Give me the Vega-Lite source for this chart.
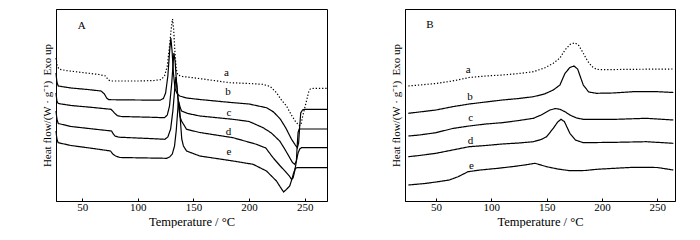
{
  "$schema": "https://vega.github.io/schema/vega-lite/v6.json",
  "padding": {"left": 40, "top": 8, "right": 0, "bottom": 0},
  "spacing": 59,
  "config": {
    "view": {"stroke": "black", "strokeWidth": 1},
    "font": "Liberation Serif",
    "axis": {"domainColor": "black", "tickColor": "black", "labelColor": "black", "titleColor": "black", "labelFont": "Liberation Serif", "titleFont": "Liberation Serif", "labelFontSize": 11, "titleFontSize": 11, "titleFontWeight": "normal", "grid": false}
  },
  "datasets": {
    "A": [
      {"s":"a","t":26.5,"v":143},{"s":"a","t":27.5,"v":136},{"s":"a","t":29,"v":132},{"s":"a","t":35,"v":130.5},{"s":"a","t":50,"v":128.5},{"s":"a","t":65,"v":126.5},{"s":"a","t":71,"v":125},{"s":"a","t":73.5,"v":121},{"s":"a","t":76,"v":120},{"s":"a","t":100,"v":120},{"s":"a","t":115,"v":120.5},{"s":"a","t":121,"v":121.5},{"s":"a","t":124,"v":125},{"s":"a","t":126.5,"v":135},{"s":"a","t":128.5,"v":155},{"s":"a","t":130,"v":172},{"s":"a","t":131.2,"v":182},{"s":"a","t":132.2,"v":172},{"s":"a","t":133.3,"v":150},{"s":"a","t":134.5,"v":132},{"s":"a","t":136,"v":126},{"s":"a","t":140,"v":124.5},{"s":"a","t":149.6,"v":123.3},{"s":"a","t":165,"v":121},{"s":"a","t":182.6,"v":118.3},{"s":"a","t":200,"v":117.5},{"s":"a","t":212.3,"v":116.7},{"s":"a","t":219,"v":114.5},{"s":"a","t":224.6,"v":108.3},{"s":"a","t":229,"v":101},{"s":"a","t":233.6,"v":95},{"s":"a","t":238,"v":86},{"s":"a","t":242,"v":79},{"s":"a","t":245,"v":75.5},{"s":"a","t":246.5,"v":76},{"s":"a","t":248,"v":84},{"s":"a","t":250,"v":93},{"s":"a","t":252,"v":102},{"s":"a","t":253.5,"v":109},{"s":"a","t":255,"v":112},{"s":"a","t":258,"v":112.7},{"s":"a","t":270,"v":112.7},
      {"s":"b","t":26.5,"v":128},{"s":"b","t":27.3,"v":119},{"s":"b","t":28.5,"v":115},{"s":"b","t":40,"v":113},{"s":"b","t":55,"v":111.5},{"s":"b","t":67,"v":110},{"s":"b","t":70,"v":107},{"s":"b","t":72,"v":103},{"s":"b","t":74,"v":101.3},{"s":"b","t":100,"v":101},{"s":"b","t":120,"v":100.8},{"s":"b","t":123,"v":102.5},{"s":"b","t":125,"v":108},{"s":"b","t":127,"v":125},{"s":"b","t":128.6,"v":150},{"s":"b","t":129.7,"v":163},{"s":"b","t":130.8,"v":150},{"s":"b","t":132,"v":128},{"s":"b","t":133.5,"v":112},{"s":"b","t":135.5,"v":107},{"s":"b","t":137.7,"v":105},{"s":"b","t":143.8,"v":103},{"s":"b","t":155.7,"v":101.5},{"s":"b","t":185.6,"v":98.3},{"s":"b","t":200,"v":97},{"s":"b","t":215.6,"v":93.3},{"s":"b","t":222,"v":89},{"s":"b","t":228,"v":82},{"s":"b","t":233,"v":73},{"s":"b","t":238,"v":62},{"s":"b","t":241.5,"v":56},{"s":"b","t":243.4,"v":53.3},{"s":"b","t":244.5,"v":58},{"s":"b","t":245.5,"v":75},{"s":"b","t":246.4,"v":88},{"s":"b","t":248,"v":91},{"s":"b","t":250,"v":91.7},{"s":"b","t":270,"v":91.7},
      {"s":"c","t":26.5,"v":108},{"s":"c","t":27.3,"v":100},{"s":"c","t":28.5,"v":97.5},{"s":"c","t":40,"v":95.5},{"s":"c","t":60,"v":93.5},{"s":"c","t":76,"v":91.7},{"s":"c","t":79,"v":88},{"s":"c","t":81.5,"v":85.5},{"s":"c","t":85,"v":84.5},{"s":"c","t":110,"v":83.8},{"s":"c","t":124,"v":83.3},{"s":"c","t":126.5,"v":86},{"s":"c","t":128.5,"v":95},{"s":"c","t":130.5,"v":118},{"s":"c","t":132.4,"v":148},{"s":"c","t":133.5,"v":140},{"s":"c","t":135,"v":115},{"s":"c","t":136.5,"v":100},{"s":"c","t":138,"v":94},{"s":"c","t":139.3,"v":90},{"s":"c","t":145,"v":87.5},{"s":"c","t":155.7,"v":85},{"s":"c","t":185.6,"v":81.7},{"s":"c","t":200,"v":79.5},{"s":"c","t":212.6,"v":73.3},{"s":"c","t":220,"v":68},{"s":"c","t":227.5,"v":60},{"s":"c","t":232,"v":52},{"s":"c","t":236.5,"v":43.3},{"s":"c","t":239,"v":38.5},{"s":"c","t":241,"v":36.7},{"s":"c","t":242.5,"v":40},{"s":"c","t":243.2,"v":55},{"s":"c","t":244,"v":68.3},{"s":"c","t":245,"v":72},{"s":"c","t":270,"v":72},
      {"s":"d","t":26.5,"v":90},{"s":"d","t":27.3,"v":82},{"s":"d","t":28.5,"v":77.5},{"s":"d","t":40,"v":74.5},{"s":"d","t":60,"v":72},{"s":"d","t":76.4,"v":70},{"s":"d","t":78,"v":67},{"s":"d","t":79.5,"v":65},{"s":"d","t":83,"v":63.8},{"s":"d","t":110,"v":62.5},{"s":"d","t":124.3,"v":61.7},{"s":"d","t":127,"v":64},{"s":"d","t":129.5,"v":72},{"s":"d","t":131.5,"v":90},{"s":"d","t":133.2,"v":112},{"s":"d","t":134.2,"v":124},{"s":"d","t":135.2,"v":115},{"s":"d","t":136.5,"v":95},{"s":"d","t":138,"v":84},{"s":"d","t":139.3,"v":80},{"s":"d","t":143.8,"v":71.7},{"s":"d","t":155.7,"v":68.5},{"s":"d","t":185.6,"v":63.3},{"s":"d","t":206.6,"v":56.7},{"s":"d","t":215,"v":53},{"s":"d","t":221.5,"v":43.3},{"s":"d","t":228,"v":35},{"s":"d","t":233,"v":29},{"s":"d","t":236.5,"v":24.5},{"s":"d","t":238.1,"v":21.7},{"s":"d","t":239.5,"v":23},{"s":"d","t":241,"v":30},{"s":"d","t":242.5,"v":40},{"s":"d","t":244,"v":48},{"s":"d","t":245.5,"v":52},{"s":"d","t":247,"v":53.3},{"s":"d","t":270,"v":53.3},
      {"s":"e","t":26.5,"v":70},{"s":"e","t":27.3,"v":62},{"s":"e","t":28.4,"v":58.3},{"s":"e","t":40,"v":55.5},{"s":"e","t":60,"v":52.5},{"s":"e","t":75.5,"v":50},{"s":"e","t":77.5,"v":47},{"s":"e","t":80,"v":45},{"s":"e","t":84,"v":43.5},{"s":"e","t":110,"v":43},{"s":"e","t":125.8,"v":42.7},{"s":"e","t":128.5,"v":44},{"s":"e","t":131,"v":47},{"s":"e","t":133,"v":55},{"s":"e","t":134.5,"v":70},{"s":"e","t":135.7,"v":88},{"s":"e","t":136.5,"v":100},{"s":"e","t":137.4,"v":95},{"s":"e","t":138.3,"v":80},{"s":"e","t":139.5,"v":62},{"s":"e","t":141,"v":55},{"s":"e","t":143.8,"v":50},{"s":"e","t":155.7,"v":45},{"s":"e","t":185.6,"v":40},{"s":"e","t":203.6,"v":36.7},{"s":"e","t":215.6,"v":30},{"s":"e","t":224.6,"v":20},{"s":"e","t":228,"v":14},{"s":"e","t":231,"v":9},{"s":"e","t":233,"v":11},{"s":"e","t":236.5,"v":15},{"s":"e","t":238.5,"v":22},{"s":"e","t":240,"v":28},{"s":"e","t":241.5,"v":32.5},{"s":"e","t":243,"v":33.3},{"s":"e","t":270,"v":33.3}
    ],
    "LA": [
      {"t":49.7,"v":175,"label":"A"},{"t":179.6,"v":128.3,"label":"a"},{"t":181.1,"v":109.3,"label":"b"},{"t":182,"v":88.3,"label":"c"},{"t":181.5,"v":69,"label":"d"},{"t":182,"v":49,"label":"e"}
    ],
    "B": [
      {"s":"a","t":25,"v":115},{"s":"a","t":35,"v":116},{"s":"a","t":50,"v":117.5},{"s":"a","t":65,"v":120},{"s":"a","t":80,"v":123.5},{"s":"a","t":95,"v":125},{"s":"a","t":110,"v":126},{"s":"a","t":125,"v":127.5},{"s":"a","t":138,"v":129.3},{"s":"a","t":148,"v":133},{"s":"a","t":156,"v":137.7},{"s":"a","t":162,"v":143},{"s":"a","t":166.6,"v":151},{"s":"a","t":171,"v":156.5},{"s":"a","t":175.6,"v":158.3},{"s":"a","t":179,"v":155.5},{"s":"a","t":183,"v":148},{"s":"a","t":187,"v":140},{"s":"a","t":191,"v":134.5},{"s":"a","t":195,"v":131.7},{"s":"a","t":200,"v":131.3},{"s":"a","t":230,"v":131.7},{"s":"a","t":264.5,"v":132},
      {"s":"b","t":25,"v":87.7},{"s":"b","t":35,"v":89},{"s":"b","t":50,"v":91},{"s":"b","t":65,"v":94.3},{"s":"b","t":80,"v":97},{"s":"b","t":95,"v":99},{"s":"b","t":110,"v":101},{"s":"b","t":125,"v":102.5},{"s":"b","t":138,"v":104.3},{"s":"b","t":148,"v":107},{"s":"b","t":156,"v":111},{"s":"b","t":162,"v":116},{"s":"b","t":166.6,"v":127.7},{"s":"b","t":171,"v":133.5},{"s":"b","t":174.7,"v":135},{"s":"b","t":178,"v":132},{"s":"b","t":183.1,"v":116},{"s":"b","t":188,"v":109},{"s":"b","t":195.1,"v":107.7},{"s":"b","t":210,"v":108},{"s":"b","t":228,"v":109.3},{"s":"b","t":250,"v":109.3},{"s":"b","t":264.5,"v":108.5},
      {"s":"c","t":25,"v":65},{"s":"c","t":35,"v":66},{"s":"c","t":50,"v":68.3},{"s":"c","t":65,"v":72.5},{"s":"c","t":80,"v":75},{"s":"c","t":95,"v":77},{"s":"c","t":110,"v":78.3},{"s":"c","t":125,"v":80.5},{"s":"c","t":138,"v":82.7},{"s":"c","t":145,"v":86},{"s":"c","t":153,"v":91},{"s":"c","t":158,"v":92.5},{"s":"c","t":162,"v":91.7},{"s":"c","t":167,"v":89},{"s":"c","t":171,"v":86},{"s":"c","t":177,"v":83},{"s":"c","t":183,"v":81.7},{"s":"c","t":213,"v":81.7},{"s":"c","t":240,"v":82.7},{"s":"c","t":264.5,"v":81},
      {"s":"d","t":25,"v":44.3},{"s":"d","t":35,"v":45.5},{"s":"d","t":50,"v":47.7},{"s":"d","t":65,"v":51},{"s":"d","t":80,"v":54.3},{"s":"d","t":95,"v":55.5},{"s":"d","t":110,"v":57},{"s":"d","t":125,"v":58},{"s":"d","t":138,"v":59.3},{"s":"d","t":145,"v":61.5},{"s":"d","t":150,"v":64.3},{"s":"d","t":156,"v":72.7},{"s":"d","t":160,"v":79},{"s":"d","t":163,"v":81.7},{"s":"d","t":166,"v":79.5},{"s":"d","t":171,"v":67.7},{"s":"d","t":176,"v":61},{"s":"d","t":183.1,"v":58.3},{"s":"d","t":213,"v":58.7},{"s":"d","t":240,"v":59.3},{"s":"d","t":264.5,"v":57.7},
      {"s":"e","t":25,"v":16},{"s":"e","t":40,"v":17.5},{"s":"e","t":52,"v":19.3},{"s":"e","t":62,"v":21},{"s":"e","t":70,"v":24.3},{"s":"e","t":79,"v":29.3},{"s":"e","t":90,"v":31},{"s":"e","t":106,"v":32.7},{"s":"e","t":120,"v":34.5},{"s":"e","t":130,"v":36},{"s":"e","t":139.5,"v":37.7},{"s":"e","t":150,"v":34.3},{"s":"e","t":160,"v":32},{"s":"e","t":171,"v":30.3},{"s":"e","t":185,"v":30.5},{"s":"e","t":195,"v":31.7},{"s":"e","t":228,"v":33.7},{"s":"e","t":250,"v":33.5},{"s":"e","t":264.5,"v":31}
    ],
    "LB": [
      {"t":44.6,"v":176,"label":"B"},{"t":79.2,"v":131,"label":"a"},{"t":80.7,"v":104.3,"label":"b"},{"t":81.3,"v":82.7,"label":"c"},{"t":81.3,"v":60.3,"label":"d"},{"t":82,"v":35.3,"label":"e"}
    ]
  },
  "hconcat": [
    {
      "width": 271, "height": 192,
      "layer": [
        {
          "data": {"name": "A"},
          "mark": {"type": "line", "strokeWidth": 1.2, "color": "black"},
          "encoding": {
            "x": {"field": "t", "type": "quantitative", "scale": {"domain": [26.5, 270], "nice": false, "zero": false},
                  "axis": {"title": "Temperature / °C", "titleFontSize": 12.5, "values": [50, 75, 100, 125, 150, 175, 200, 225, 250], "tickSize": -3, "labelExpr": "datum.value % 50 === 0 ? datum.label : ''", "labelPadding": 3, "titlePadding": 3}},
            "y": {"field": "v", "type": "quantitative", "scale": {"domain": [0, 192], "nice": false},
                  "axis": {"title": "Heat flow/(W · g⁻¹)\u00a0\u00a0Exo up", "labels": false, "ticks": false, "titlePadding": 4}},
            "strokeDash": {"field": "s", "type": "nominal", "scale": {"domain": ["a", "b", "c", "d", "e"], "range": [[1.3, 1.9], [1, 0], [1, 0], [1, 0], [1, 0]]}, "legend": null}
          }
        },
        {
          "data": {"name": "LA"},
          "mark": {"type": "text", "font": "Liberation Serif", "fontSize": 11, "color": "black"},
          "encoding": {
            "x": {"field": "t", "type": "quantitative"},
            "y": {"field": "v", "type": "quantitative"},
            "text": {"field": "label"}
          }
        }
      ]
    },
    {
      "width": 270, "height": 192,
      "layer": [
        {
          "data": {"name": "B"},
          "mark": {"type": "line", "strokeWidth": 1.2, "color": "black"},
          "encoding": {
            "x": {"field": "t", "type": "quantitative", "scale": {"domain": [22, 266], "nice": false, "zero": false},
                  "axis": {"title": "Temperature / °C", "titleFontSize": 12.5, "values": [50, 75, 100, 125, 150, 175, 200, 225, 250], "tickSize": -3, "labelExpr": "datum.value % 50 === 0 ? datum.label : ''", "labelPadding": 3, "titlePadding": 3}},
            "y": {"field": "v", "type": "quantitative", "scale": {"domain": [0, 192], "nice": false},
                  "axis": {"title": "Heat flow/(W · g⁻¹)\u00a0\u00a0Exo up", "labels": false, "ticks": false, "titlePadding": 4}},
            "strokeDash": {"field": "s", "type": "nominal", "scale": {"domain": ["a", "b", "c", "d", "e"], "range": [[1.3, 1.9], [1, 0], [1, 0], [1, 0], [1, 0]]}, "legend": null}
          }
        },
        {
          "data": {"name": "LB"},
          "mark": {"type": "text", "font": "Liberation Serif", "fontSize": 11, "color": "black"},
          "encoding": {
            "x": {"field": "t", "type": "quantitative"},
            "y": {"field": "v", "type": "quantitative"},
            "text": {"field": "label"}
          }
        }
      ]
    }
  ]
}
